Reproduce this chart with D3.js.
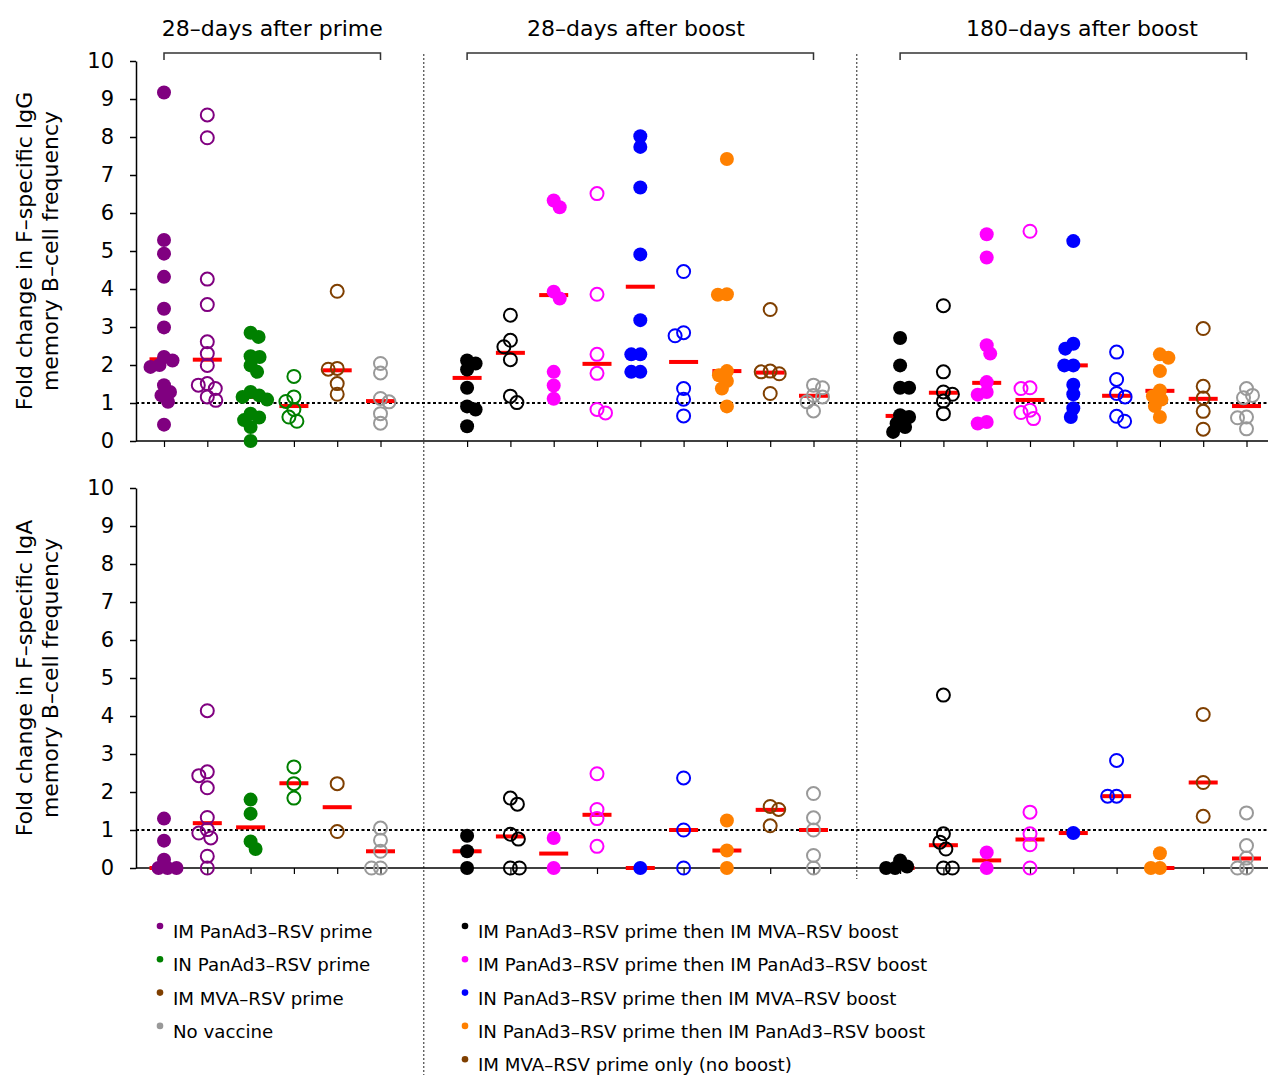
<!DOCTYPE html>
<html>
<head>
<meta charset="utf-8">
<script src="https://cdn.jsdelivr.net/npm/d3@7"></script>
<style>
  body { margin: 0; background: #fff; }
  text { font-family: "DejaVu Sans", sans-serif; fill: #000; }
</style>
</head>
<body>
<svg id="chart" width="1268" height="1075"></svg>
<script>
// time points shown across the top
const timepoints = ["28–days after prime", "28–days after boost", "180–days after boost"];

// column colours / filled flag for each time point
const primeColors = ["purple", "purple", "green", "green", "brown", "gray"];
const primeFilled = [true, false, true, false, false, false];
const boostColors = ["black", "black", "magenta", "magenta", "blue", "blue", "orange", "brown", "gray"];
const boostFilled = [true, false, true, false, true, false, true, false, false];

// IgG fold change (top panel)
const iggPrime = [
  [9.17, 5.29, 4.93, 4.32, 3.48, 2.99, 2.21, 2.12, 2.0, 1.95, 1.47, 1.29, 1.2, 1.03, 0.43],
  [8.58, 7.98, 4.26, 3.59, 2.61, 2.30, 1.99, 1.51, 1.47, 1.38, 1.16, 1.07],
  [2.85, 2.74, 2.23, 2.21, 1.99, 1.82, 1.29, 1.2, 1.16, 1.09, 0.72, 0.62, 0.55, 0.37, 0.0],
  [1.70, 1.16, 1.04, 0.83, 0.63, 0.52],
  [3.94, 1.91, 1.89, 1.51, 1.23],
  [2.04, 1.79, 1.12, 1.03, 0.72, 0.47]
];
const iggPrimeMed = [2.15, 2.14, 1.16, 0.92, 1.86, 1.05];

const iggBoost28 = [
  [2.12, 2.04, 1.88, 1.40, 0.91, 0.83, 0.39],
  [3.31, 2.65, 2.48, 2.14, 1.18, 1.01],
  [6.33, 6.15, 3.93, 3.75, 1.82, 1.46, 1.11],
  [6.51, 3.86, 2.28, 1.78, 0.83, 0.74],
  [8.02, 7.74, 6.67, 4.91, 3.18, 2.28, 2.28, 1.82, 1.82],
  [4.46, 2.85, 2.77, 1.38, 1.10, 0.66],
  [7.42, 3.86, 3.85, 1.84, 1.73, 1.58, 1.38, 0.91],
  [3.46, 1.84, 1.82, 1.77, 1.25],
  [1.47, 1.40, 1.20, 1.16, 1.03, 0.79]
];
const iggBoost28Med = [1.66, 2.32, 3.84, 2.03, 4.06, 2.08, 1.84, 1.80, 1.19];

const iggBoost180 = [
  [2.71, 1.99, 1.40, 1.40, 0.68, 0.63, 0.46, 0.37, 0.24],
  [3.56, 1.82, 1.29, 1.23, 1.05, 0.72],
  [5.44, 4.83, 2.52, 2.30, 1.55, 1.29, 1.22, 0.50, 0.46],
  [5.52, 1.40, 1.38, 0.81, 0.75, 0.59],
  [5.26, 2.56, 2.43, 1.99, 1.99, 1.48, 1.23, 0.86, 0.63],
  [2.34, 1.62, 1.25, 1.16, 0.65, 0.52],
  [2.28, 2.19, 1.84, 1.33, 1.18, 1.09, 0.92, 0.63],
  [2.96, 1.44, 1.13, 0.78, 0.31],
  [1.38, 1.20, 1.14, 0.63, 0.61, 0.32]
];
const iggBoost180Med = [0.66, 1.27, 1.53, 1.08, 1.99, 1.19, 1.32, 1.11, 0.92];

// IgA fold change (bottom panel)
const igaPrime = [
  [1.30, 0.72, 0.22, 0, 0, 0],
  [4.14, 2.53, 2.43, 2.11, 1.33, 1.01, 0.92, 0.79, 0.31, 0],
  [1.80, 1.43, 0.70, 0.50],
  [2.66, 2.22, 1.84],
  [2.22, 0.96],
  [1.05, 0.73, 0.44, 0, 0]
];
const igaPrimeMed = [0, 1.18, 1.07, 2.23, 1.60, 0.44];

const igaBoost28 = [
  [0.85, 0.44, 0],
  [1.84, 1.68, 0.89, 0.76, 0, 0],
  [0.79, 0],
  [2.48, 1.54, 1.30, 0.57],
  [0],
  [2.37, 1.00, 0],
  [1.25, 0.46, 0],
  [1.62, 1.54, 1.11],
  [1.96, 1.32, 1.00, 0.33, 0]
];
const igaBoost28Med = [0.44, 0.83, 0.38, 1.40, 0, 1.0, 0.46, 1.53, 1.0];

const igaBoost180 = [
  [0.2, 0.04, 0, 0],
  [4.55, 0.90, 0.68, 0.50, 0, 0],
  [0.41, 0],
  [1.47, 0.90, 0.61, 0],
  [0.92],
  [2.83, 1.89, 1.89],
  [0.39, 0, 0],
  [4.04, 2.25, 1.36],
  [1.45, 0.59, 0.26, 0, 0]
];
const igaBoost180Med = [0, 0.6, 0.2, 0.75, 0.92, 1.89, 0, 2.25, 0.25];

const yTicks = [0, 1, 2, 3, 4, 5, 6, 7, 8, 9, 10];
const yLabels = [
  ["Fold change in F–specific IgG", "memory B–cell frequency"],
  ["Fold change in F–specific IgA", "memory B–cell frequency"]
];

const legendLeft = ["IM PanAd3–RSV prime", "IN PanAd3–RSV prime", "IM MVA–RSV prime", "No vaccine"];
const legendLeftColors = ["purple", "green", "brown", "gray"];
const legendRight = [
  "IM PanAd3–RSV prime then IM MVA–RSV boost",
  "IM PanAd3–RSV prime then IM PanAd3–RSV boost",
  "IN PanAd3–RSV prime then IM MVA–RSV boost",
  "IN PanAd3–RSV prime then IM PanAd3–RSV boost",
  "IM MVA–RSV prime only (no boost)"
];
const legendRightColors = ["black", "magenta", "blue", "orange", "brown"];

const palette = {
  purple: "#800080", green: "#008000", brown: "#7f3f00", gray: "#999999",
  black: "#000000", magenta: "#ff00ff", blue: "#0000ff", orange: "#ff8000"
};

// slot index of the first column of each time point (slots 6 and 16 are separators)
const startSlot = [0, 7, 17];

const svg = d3.select("#chart");
const x = d3.scaleLinear().domain([0, 25]).range([164, 1246.5]);
const axisLeftX = 136;

const panels = [
  { y: d3.scaleLinear().domain([0, 10]).range([441, 61]),
    sets: [[iggPrime, iggPrimeMed], [iggBoost28, iggBoost28Med], [iggBoost180, iggBoost180Med]] },
  { y: d3.scaleLinear().domain([0, 10]).range([868, 488]),
    sets: [[igaPrime, igaPrimeMed], [igaBoost28, igaBoost28Med], [igaBoost180, igaBoost180Med]] }
];

// simple deterministic beeswarm: spread out points that would overlap
function swarm(vals, y, minD) {
  const ys = vals.map(v => y(v)).sort((a, b) => a - b);
  const placed = [];
  ys.forEach(py => {
    let best = 0;
    for (let s = 0; s < 80; s += 0.5) {
      const cands = placed.length % 2 ? [s, -s] : [-s, s];
      const ok = cands.find(dx => placed.every(p => Math.hypot(p.dx - dx, p.y - py) >= minD));
      if (ok !== undefined) { best = ok; break; }
    }
    placed.push({ dx: best, y: py });
  });
  return placed;
}

const allSlots = [];
startSlot.forEach((s, i) => {
  const n = i === 0 ? primeColors.length : boostColors.length;
  for (let k = 0; k < n; k++) allSlots.push(s + k);
});

// vertical dotted separators
svg.append("line")
  .attr("x1", x(6)).attr("x2", x(6)).attr("y1", 54).attr("y2", 1075)
  .attr("stroke", "#222").attr("stroke-width", 1).attr("stroke-dasharray", "2,2");
svg.append("line")
  .attr("x1", x(16)).attr("x2", x(16)).attr("y1", 54).attr("y2", 879)
  .attr("stroke", "#222").attr("stroke-width", 1).attr("stroke-dasharray", "2,2");

// titles and brackets
const titleX = [x(2.5), x(10.9), x(21.2)];
startSlot.forEach((s, i) => {
  const n = i === 0 ? primeColors.length : boostColors.length;
  const x1 = x(s), x2 = x(s + n - 1);
  svg.append("path")
    .attr("d", `M${x1},60V53H${x2}V60`)
    .attr("fill", "none").attr("stroke", "#333").attr("stroke-width", 1.5);
  svg.append("text")
    .attr("x", titleX[i]).attr("y", 36)
    .attr("text-anchor", "middle").style("font-size", "22px")
    .text(timepoints[i]);
});

panels.forEach((panel, pi) => {
  const y = panel.y;
  const g = svg.append("g");

  // y axis
  const ya = g.append("g")
    .attr("transform", `translate(${axisLeftX},0)`)
    .call(d3.axisLeft(y).tickValues(yTicks).tickSize(6).tickSizeOuter(0).tickPadding(16));
  ya.selectAll("text").style("font-size", "21px").style("font-family", '"DejaVu Sans", sans-serif');
  ya.selectAll("line, path").attr("stroke", "#000").attr("stroke-width", 1.5);

  // x axis ticks + baseline
  const xa = g.append("g")
    .attr("transform", `translate(0,${y(0)})`)
    .call(d3.axisBottom(x).tickValues(allSlots).tickSize(6).tickFormat(""));
  xa.select(".domain").remove();
  xa.selectAll("line").attr("stroke", "#000").attr("stroke-width", 1.2);
  g.append("line")
    .attr("x1", axisLeftX).attr("x2", 1268).attr("y1", y(0)).attr("y2", y(0))
    .attr("stroke", "#000").attr("stroke-width", 1.5);

  // reference line at fold change 1
  g.append("line")
    .attr("x1", axisLeftX).attr("x2", 1268).attr("y1", y(1)).attr("y2", y(1))
    .attr("stroke", "#000").attr("stroke-width", 2).attr("stroke-dasharray", "3,2.5");

  // y label
  const cy = (y(0) + y(10)) / 2;
  yLabels[pi].forEach((line, li) => {
    g.append("text")
      .attr("transform", `translate(${32 + li * 26},${cy}) rotate(-90)`)
      .attr("text-anchor", "middle").style("font-size", "22px")
      .text(line);
  });

  // data columns
  panel.sets.forEach(([cols, meds], ti) => {
    const colors = ti === 0 ? primeColors : boostColors;
    const filled = ti === 0 ? primeFilled : boostFilled;
    cols.forEach((vals, ci) => {
      const cx = x(startSlot[ti] + ci);
      const col = palette[colors[ci]];
      g.append("rect")
        .attr("x", cx - 14.5).attr("y", y(meds[ci]) - 2)
        .attr("width", 29).attr("height", 4)
        .attr("fill", "#ff0000");
      const pts = swarm(vals, y, 9);
      g.selectAll(null).data(pts).enter().append("circle")
        .attr("cx", d => cx + d.dx).attr("cy", d => d.y)
        .attr("r", filled[ci] ? 7 : 6.5)
        .attr("fill", filled[ci] ? col : "none")
        .attr("stroke", filled[ci] ? "none" : col)
        .attr("stroke-width", 2);
    });
  });
});

// legend
const legendRows = (labels, colors, tx) => {
  labels.forEach((lab, i) => {
    const by = 938 + i * 33.3;
    svg.append("circle").attr("cx", tx - 13).attr("cy", by - 12).attr("r", 3.3)
      .attr("fill", palette[colors[i]]);
    svg.append("text").attr("x", tx).attr("y", by).style("font-size", "18.2px").text(lab);
  });
};
legendRows(legendLeft, legendLeftColors, 173);
legendRows(legendRight, legendRightColors, 478);
</script>
</body>
</html>
